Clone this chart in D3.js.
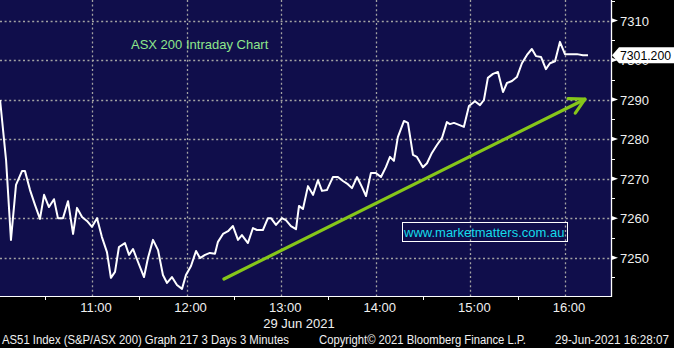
<!DOCTYPE html>
<html>
<head>
<meta charset="utf-8">
<script src="https://cdn.jsdelivr.net/npm/d3@7"></script>
<style>
  body { margin: 0; background: #000; }
  text { font-family: "Liberation Sans", Arial, sans-serif; }
</style>
</head>
<body>
<div id="chart"></div>
<script>
// ASX 200 intraday, 3 minute bars (minutes after 10:00)
var minutes = [1.7, 5.5, 8.6, 11.8, 15.6, 17.5, 20.7, 23.9, 27.0, 29.6,
  32.7, 35.9, 38.4, 41.6, 44.8, 48.0, 50.5, 53.7, 56.8, 60.0,
  63.2, 66.3, 69.5, 72.0, 74.6, 77.1, 80.9, 83.5, 86.0, 89.2,
  93.0, 95.5, 98.7, 101.9, 105.0, 107.6, 110.7, 113.9, 117.1, 119.6,
  122.8, 126.0, 128.5, 131.7, 134.8, 138.0, 139.9, 143.1, 146.3, 149.4,
  152.6, 155.1, 158.9, 162.1, 164.6, 168.4, 171.6, 173.5, 176.7, 180.5,
  183.0, 186.2, 189.4, 191.3, 193.8, 197.0, 200.2, 203.3, 205.9, 209.0,
  212.8, 216.0, 219.2, 222.3, 224.9, 228.1, 231.2, 233.8, 236.9, 240.1,
  243.3, 246.4, 249.0, 251.5, 254.0, 257.9, 260.4, 263.6, 266.1, 269.9,
  272.5, 275.6, 278.8, 282.0, 285.1, 287.0, 289.6, 292.8, 295.9, 299.1,
  302.9, 306.1, 308.6, 311.1, 314.3, 317.5, 320.7, 323.2, 326.4, 329.5,
  332.7, 335.9, 339.0, 341.6, 344.8, 347.9, 350.5, 353.7, 356.8, 360.0,
  363.2, 367.6, 371.4, 374.6];

var prices = [7289.9, 7274.7, 7254.5, 7268.4, 7271.9, 7271.9, 7267.1, 7263.3, 7259.8, 7265.9,
  7262.8, 7264.8, 7260.0, 7260.0, 7264.3, 7256.0, 7262.6, 7260.3, 7259.3, 7257.8,
  7260.0, 7255.2, 7251.4, 7244.9, 7246.4, 7252.7, 7253.7, 7250.7, 7252.2, 7248.9,
  7245.1, 7249.9, 7254.5, 7251.9, 7245.6, 7243.6, 7245.1, 7243.1, 7242.1, 7245.6,
  7247.9, 7251.7, 7249.9, 7250.7, 7251.2, 7251.0, 7254.0, 7256.0, 7256.7, 7258.0,
  7254.5, 7255.7, 7253.7, 7257.5, 7257.0, 7257.0, 7260.0, 7260.0, 7258.3, 7260.0,
  7259.5, 7258.0, 7257.2, 7263.1, 7262.3, 7268.1, 7265.9, 7269.6, 7266.9, 7267.1,
  7270.4, 7270.4, 7269.4, 7268.6, 7267.6, 7270.4, 7267.9, 7265.6, 7271.4, 7271.4,
  7270.4, 7272.9, 7275.5, 7274.5, 7280.5, 7284.6, 7284.1, 7276.0, 7275.5, 7272.9,
  7273.9, 7276.5, 7278.5, 7280.3, 7284.3, 7283.8, 7284.1, 7283.6, 7283.1, 7288.4,
  7289.6, 7288.6, 7289.9, 7295.5, 7296.5, 7297.0, 7291.9, 7294.2, 7294.7, 7295.7,
  7299.2, 7301.3, 7302.8, 7301.0, 7300.8, 7297.7, 7299.2, 7299.7, 7304.6, 7301.5,
  7301.5, 7301.5, 7301.2, 7301.2];

// axis ticks
var hourTicks = [60, 120, 180, 240, 300, 360];
var hourLabels = ["11:00", "12:00", "13:00", "14:00", "15:00", "16:00"];
var halfHourTicks = [30, 90, 150, 210, 270, 330, 390];
var priceTicks = [7250, 7260, 7270, 7280, 7290, 7300, 7310];
var minorPriceTicks = [7245, 7255, 7265, 7275, 7285, 7295, 7305, 7315];

// trend arrow (minutes, price)
var arrowFrom = [143.7, 7244.6];
var arrowTo = [372.7, 7290.1];

var titleText = "ASX 200 Intraday Chart";
var watermark = "www.marketmatters.com.au";
var dateText = "29 Jun 2021";
var footerLeft = "AS51 Index (S&P/ASX 200) Graph 217 3 Days 3 Minutes";
var footerMid = "Copyright\u00A9 2021 Bloomberg Finance L.P.";
var footerRight = "29-Jun-2021 16:28:07";

//Dimensions
var svgWidth = 674;
var svgHeight = 348;
var plotRight = 611;
var plotBottom = 296;

var svg = d3.select("#chart")
    .append("svg")
    .attr("width", svgWidth)
    .attr("height", svgHeight)
    .style("display", "block");

svg.append("rect")
    .attr("width", svgWidth)
    .attr("height", svgHeight)
    .attr("fill", "#000");

//Scales
var xScale = d3.scaleLinear()
    .domain([1.65, 389.2])
    .range([0, plotRight]);

var yScale = d3.scaleLinear()
    .domain([7240.3, 7315.2])
    .range([plotBottom, 0]);

//Plot background
svg.append("rect")
    .attr("width", plotRight)
    .attr("height", plotBottom)
    .attr("fill", "#100e4b");

svg.append("clipPath")
    .attr("id", "plotClip")
    .append("rect")
    .attr("width", plotRight)
    .attr("height", plotBottom);

//Grid lines
var grid = svg.append("g").attr("stroke", "#a3a3a3").attr("stroke-width", 1.3)
    .attr("stroke-dasharray", "2,2.6");

grid.selectAll(".hgrid")
    .data(priceTicks)
    .enter()
    .append("line")
    .attr("x1", 0)
    .attr("x2", plotRight)
    .attr("y1", d => Math.round(yScale(d)) + 0.5)
    .attr("y2", d => Math.round(yScale(d)) + 0.5);

grid.selectAll(".vgrid")
    .data(hourTicks)
    .enter()
    .append("line")
    .attr("x1", d => Math.round(xScale(d)) + 0.5)
    .attr("x2", d => Math.round(xScale(d)) + 0.5)
    .attr("y1", 0)
    .attr("y2", plotBottom);

//Title and watermark
svg.append("text")
    .attr("x", 131)
    .attr("y", 49)
    .attr("fill", "#8ee68c")
    .style("font-size", "13px")
    .text(titleText);

svg.append("rect")
    .attr("x", 402.5)
    .attr("y", 222.5)
    .attr("width", 165)
    .attr("height", 19)
    .attr("fill", "none")
    .attr("stroke", "#ffffff")
    .attr("stroke-width", 1);

svg.append("text")
    .attr("x", 404)
    .attr("y", 237)
    .attr("fill", "#14dcea")
    .style("font-size", "13px")
    .text(watermark);

//Trend arrow
var ax0 = xScale(arrowFrom[0]), ay0 = yScale(arrowFrom[1]);
var ax1 = xScale(arrowTo[0]), ay1 = yScale(arrowTo[1]);
var ang = Math.atan2(ay0 - ay1, ax0 - ax1);
var headLen = 17, headSpread = 0.5;

var arrow = svg.append("g")
    .attr("stroke", "#86c61a")
    .attr("stroke-width", 3.2)
    .attr("stroke-linecap", "round")
    .attr("fill", "none");

arrow.append("line")
    .attr("x1", ax0).attr("y1", ay0)
    .attr("x2", ax1).attr("y2", ay1);

arrow.append("path")
    .attr("stroke-linejoin", "round")
    .attr("d", "M" + (ax1 + headLen * Math.cos(ang - headSpread)) + "," + (ay1 + headLen * Math.sin(ang - headSpread)) +
        "L" + ax1 + "," + ay1 +
        "L" + (ax1 + headLen * Math.cos(ang + headSpread)) + "," + (ay1 + headLen * Math.sin(ang + headSpread)));

//Price line
var priceData = minutes.map((m, i) => ({ t: m, v: prices[i] }));

var line = d3.line()
    .x(d => xScale(d.t))
    .y(d => yScale(d.v));

svg.append("path")
    .datum(priceData)
    .attr("clip-path", "url(#plotClip)")
    .attr("d", line)
    .attr("fill", "none")
    .attr("stroke", "#ffffff")
    .attr("stroke-width", 2)
    .attr("stroke-linejoin", "round");

//Bottom axis
var bottom = svg.append("g").attr("stroke", "#ffffff");
bottom.append("line")
    .attr("x1", 0).attr("x2", plotRight + 1)
    .attr("y1", plotBottom + 0.5).attr("y2", plotBottom + 0.5);

bottom.selectAll(".tick")
    .data(halfHourTicks.filter(d => xScale(d) < plotRight))
    .enter()
    .append("line")
    .attr("x1", d => Math.round(xScale(d)) + 0.5)
    .attr("x2", d => Math.round(xScale(d)) + 0.5)
    .attr("y1", plotBottom)
    .attr("y2", plotBottom + 4);

svg.selectAll(".hourLabel")
    .data(hourTicks)
    .enter()
    .append("text")
    .attr("x", d => xScale(d) + 4)
    .attr("y", 312)
    .attr("text-anchor", "middle")
    .attr("fill", "#f0f0f0")
    .style("font-size", "13px")
    .text((d, i) => hourLabels[i]);

svg.append("text")
    .attr("x", 299)
    .attr("y", 328)
    .attr("text-anchor", "middle")
    .attr("fill", "#f0f0f0")
    .style("font-size", "13px")
    .text(dateText);

//Right axis
var right = svg.append("g");
right.append("line")
    .attr("x1", plotRight + 0.5).attr("x2", plotRight + 0.5)
    .attr("y1", 0).attr("y2", plotBottom + 1)
    .attr("stroke", "#ffffff")
    .attr("stroke-width", 1.3);

right.selectAll(".major")
    .data(priceTicks)
    .enter()
    .append("path")
    .attr("d", d => {
        var y = yScale(d);
        return "M" + plotRight + "," + (y - 2.5) + "L" + (plotRight + 7) + "," + y + "L" + plotRight + "," + (y + 2.5) + "Z";
    })
    .attr("fill", "#ffffff");

right.selectAll(".minor")
    .data(minorPriceTicks)
    .enter()
    .append("line")
    .attr("x1", plotRight)
    .attr("x2", plotRight + 4)
    .attr("y1", d => Math.round(yScale(d)) + 0.5)
    .attr("y2", d => Math.round(yScale(d)) + 0.5)
    .attr("stroke", "#ffffff");

// the 7300 label sits behind the last value tag
right.selectAll(".priceLabel")
    .data(priceTicks)
    .enter()
    .append("text")
    .attr("x", 620)
    .attr("y", d => yScale(d) + 5)
    .attr("fill", "#f0f0f0")
    .style("font-size", "13px")
    .text(d => d);

//Last value tag
var lastVal = prices[prices.length - 1];
var ly = yScale(lastVal);
svg.append("path")
    .attr("d", "M" + (plotRight + 1) + "," + ly +
        "L" + (plotRight + 8) + "," + (ly - 8) +
        "L" + svgWidth + "," + (ly - 8) +
        "L" + svgWidth + "," + (ly + 8) +
        "L" + (plotRight + 8) + "," + (ly + 8) + "Z")
    .attr("fill", "#ffffff");

svg.append("text")
    .attr("x", 620)
    .attr("y", ly + 5)
    .attr("textLength", 51)
    .attr("lengthAdjust", "spacingAndGlyphs")
    .attr("fill", "#000000")
    .style("font-size", "13px")
    .text(d3.format(".3f")(lastVal));

//Footer
var footer = [[footerLeft, 2, 287], [footerMid, 319, 207], [footerRight, 555, 114]];
svg.selectAll(".footer")
    .data(footer)
    .enter()
    .append("text")
    .attr("x", d => d[1])
    .attr("y", 344)
    .attr("textLength", d => d[2])
    .attr("lengthAdjust", "spacingAndGlyphs")
    .attr("fill", "#f0f0f0")
    .style("font-size", "12.5px")
    .text(d => d[0]);
</script>
</body>
</html>
